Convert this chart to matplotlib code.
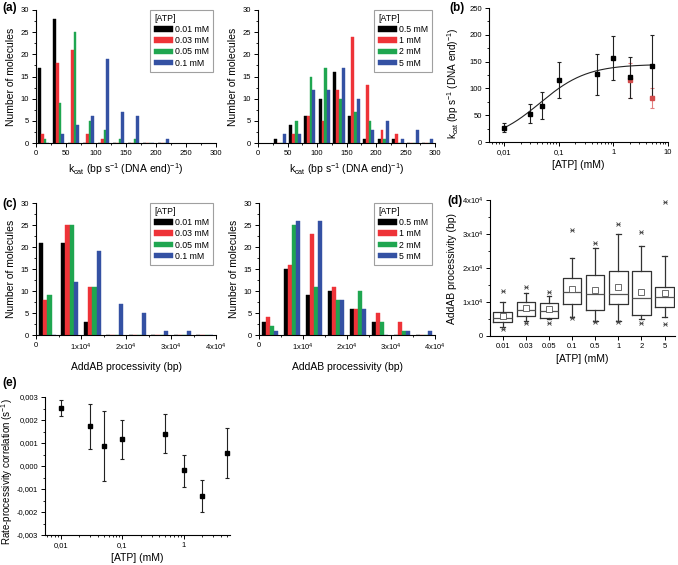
import numpy as np
import matplotlib
matplotlib.use('Agg')
import matplotlib.pyplot as plt
from matplotlib.ticker import MultipleLocator, LogLocator, NullFormatter

plt.rcParams['font.family'] = ['Liberation Sans', 'DejaVu Sans']
plt.rcParams['mathtext.default'] = 'regular'
plt.rcParams['xtick.direction'] = 'out'
plt.rcParams['ytick.direction'] = 'out'

# ---- data ----
colors = ['#000000', '#EE3338', '#1FA650', '#3451A3']

# (a) kcat histograms, bins of 25 bp/s
kcat_bins_low = [0, 25, 50, 75, 100, 125, 150, 175, 200]
kcat_low_labels = ['0.01 mM', '0.03 mM', '0.05 mM', '0.1 mM']
kcat_001 = [17, 28, 0, 0, 0, 0, 0, 0, 0]
kcat_003 = [2, 18, 21, 2, 1, 0, 0, 0, 0]
kcat_005 = [1, 9, 25, 5, 3, 1, 1, 0, 0]
kcat_01 = [0, 2, 4, 6, 19, 7, 6, 0, 1]

kcat_bins_high = [25, 50, 75, 100, 125, 150, 175, 200, 225, 250, 275]
kcat_high_labels = ['0.5 mM', '1 mM', '2 mM', '5 mM']
kcat_05 = [1, 4, 6, 10, 16, 6, 1, 1, 1, 0, 0]
kcat_1 = [0, 2, 6, 5, 12, 24, 13, 3, 2, 0, 0]
kcat_2 = [0, 5, 15, 17, 10, 7, 5, 1, 0, 0, 0]
kcat_5 = [2, 2, 12, 12, 17, 10, 3, 5, 1, 3, 1]

# (b) kcat vs ATP
atp_b = [0.01, 0.03, 0.05, 0.1, 0.5, 1, 2, 5]
kcat_mean = [27, 53, 68, 116, 126, 156, 121, 142]
kcat_err = [8, 17, 26, 33, 38, 41, 38, 57]
atp_b_red = [2, 5]
kcat_red = [115, 82]
kcat_red_err = [32, 19]
fit_vmax = 145.0
fit_km = 0.045

# (c) processivity histograms, bins of 5000 bp
proc_bins = [0, 5000, 10000, 15000, 20000, 25000, 30000, 35000]
proc_001 = [21, 21, 3, 0, 0, 0, 0, 0]
proc_003 = [8, 25, 11, 0, 0, 0, 0, 0]
proc_005 = [9, 25, 11, 0, 0, 0, 0, 0]
proc_01 = [0, 12, 19, 7, 5, 1, 1, 0]
proc_05 = [3, 15, 9, 10, 6, 3, 0, 0]
proc_1 = [4, 16, 23, 11, 6, 5, 3, 0]
proc_2 = [2, 25, 11, 8, 10, 3, 1, 0]
proc_5 = [1, 26, 26, 8, 6, 0, 1, 1]

# (d) processivity box plot
box_labels = ['0.01', '0.03', '0.05', '0.1', '0.5', '1', '2', '5']
box_whislo = [2600, 4400, 4900, 5700, 4400, 4400, 4900, 5700]
box_q1 = [4200, 6000, 5400, 9400, 7600, 9300, 6200, 8500]
box_med = [5200, 7600, 7500, 12900, 12300, 12300, 11100, 11500]
box_q3 = [7000, 9900, 9600, 17000, 18000, 19000, 19000, 14300]
box_whishi = [10100, 12700, 11800, 23000, 25800, 30100, 26400, 23500]
box_mean = [5900, 8100, 7800, 13800, 13400, 14400, 12900, 12600]
box_max = [13300, 14300, 12800, 31200, 27500, 32900, 30500, 39300]
box_min = [2200, 3900, 3700, 5200, 4100, 4100, 3700, 3400]

# (e) rate-processivity correlation
atp_e = [0.01, 0.03, 0.05, 0.1, 0.5, 1, 2, 5]
corr = [0.00254, 0.00172, 0.00088, 0.00116, 0.00140, -0.00017, -0.00131, 0.00058]
corr_up = [0.00288, 0.00269, 0.00240, 0.00200, 0.00224, 0.00049, -0.00063, 0.00167]
corr_lo = [0.00218, 0.00073, -0.00066, 0.00032, 0.00055, -0.00090, -0.00198, -0.00052]
e_ticks = [-0.003, -0.002, -0.001, 0.0, 0.001, 0.002, 0.003]
e_ticklabels = ['-0,003', '-0,002', '-0,001', '0,000', '0,001', '0,002', '0,003']
log_ticks = [0.01, 0.1, 1, 10]
log_ticklabels = ['0,01', '0,1', '1', '10']

TICK_FS = 5.5
LABEL_FS = 7.5
LEG_FS = 6.3
W, H = 678, 565


def px_axes(fig, left, right, top, bottom):
    return fig.add_axes([left / W, 1 - bottom / H, (right - left) / W, (bottom - top) / H])


def style(ax):
    for s in ['top', 'right']:
        ax.spines[s].set_visible(False)
    for s in ['left', 'bottom']:
        ax.spines[s].set_linewidth(0.8)
    ax.tick_params(which='major', length=3, width=0.7, labelsize=TICK_FS, pad=2)
    ax.tick_params(which='minor', length=1.5, width=0.6)


def grouped_hist(ax, bins, series, labels, width):
    for i, (vals, lab) in enumerate(zip(series, labels)):
        lefts = np.array(bins) + width * (0.115 + 0.1925 * i)
        ax.bar(lefts, vals, width=width * 0.1925, align='edge', color=colors[i],
               edgecolor=colors[i], linewidth=0.3, label=lab)
    leg = ax.legend(title='[ATP]', loc='upper right', bbox_to_anchor=(0.985, 1.0),
                    fontsize=LEG_FS, title_fontsize=LEG_FS, frameon=True, fancybox=False,
                    edgecolor='#888888', handlelength=2.1, handleheight=0.6,
                    labelspacing=0.25, handletextpad=0.3, borderpad=0.45, borderaxespad=0)
    leg.get_frame().set_linewidth(0.8)
    leg._legend_box.align = 'left'
    ax.set_ylim(0, 30)
    ax.yaxis.set_major_locator(MultipleLocator(5))
    ax.yaxis.set_minor_locator(MultipleLocator(2.5))
    ax.set_ylabel('Number of molecules', fontsize=LABEL_FS, labelpad=3)


fig = plt.figure(figsize=(W / 100, H / 100), dpi=100)

kcat_label = r'k$_{cat}$ (bp s$^{-1}$ (DNA end)$^{-1}$)'

# (a) left
ax = px_axes(fig, 36, 216, 10, 143)
style(ax)
grouped_hist(ax, kcat_bins_low, [kcat_001, kcat_003, kcat_005, kcat_01], kcat_low_labels, 25)
ax.set_xlim(0, 300)
ax.xaxis.set_major_locator(MultipleLocator(50))
ax.xaxis.set_minor_locator(MultipleLocator(25))
ax.set_xlabel(kcat_label, fontsize=LABEL_FS, labelpad=3)

# (a) right
ax = px_axes(fig, 258, 435, 10, 143)
style(ax)
grouped_hist(ax, kcat_bins_high, [kcat_05, kcat_1, kcat_2, kcat_5], kcat_high_labels, 25)
ax.set_xlim(0, 300)
ax.xaxis.set_major_locator(MultipleLocator(50))
ax.xaxis.set_minor_locator(MultipleLocator(25))
ax.set_xlabel(kcat_label, fontsize=LABEL_FS, labelpad=3)

# (b)
ax = px_axes(fig, 489, 668, 8, 142)
style(ax)
xf = np.logspace(np.log10(0.01), np.log10(5), 200)
ax.plot(xf, fit_vmax * xf / (fit_km + xf), color='#222222', lw=0.8)
ax.errorbar(atp_b_red, kcat_red, yerr=kcat_red_err, fmt='s', color='#D24B4B',
            ecolor='#E38080', ms=3.5, capsize=1.5, elinewidth=0.8, capthick=0.8)
ax.errorbar(atp_b, kcat_mean, yerr=kcat_err, fmt='s', color='black', ecolor='#222222',
            ms=3.5, capsize=1.5, elinewidth=0.8, capthick=0.8)
ax.set_xscale('log')
ax.set_xlim(0.0053, 10)
ax.set_ylim(0, 250)
ax.set_xticks(log_ticks)
ax.set_xticklabels(log_ticklabels)
ax.xaxis.set_minor_locator(LogLocator(base=10, subs=np.arange(2, 10)))
ax.xaxis.set_minor_formatter(NullFormatter())
ax.yaxis.set_major_locator(MultipleLocator(50))
ax.yaxis.set_minor_locator(MultipleLocator(25))
ax.set_xlabel('[ATP] (mM)', fontsize=LABEL_FS, labelpad=3)
ax.set_ylabel(kcat_label, fontsize=LABEL_FS - 0.3)
ax.yaxis.set_label_coords(-0.155, 0.44)

# (c) left
proc_ticks = [0, 10000, 20000, 30000, 40000]
proc_ticklabels = ['0', r'1x10$^4$', r'2x10$^4$', r'3x10$^4$', r'4x10$^4$']
ax = px_axes(fig, 36, 216, 203, 335)
style(ax)
grouped_hist(ax, proc_bins, [proc_001, proc_003, proc_005, proc_01], kcat_low_labels, 5000)
ax.set_xlim(0, 40000)
ax.set_xticks(proc_ticks)
ax.set_xticklabels(proc_ticklabels)
ax.xaxis.set_minor_locator(MultipleLocator(5000))
ax.set_xlabel('AddAB processivity (bp)', fontsize=LABEL_FS, labelpad=6)

# (c) right
ax = px_axes(fig, 259, 435, 203, 335)
style(ax)
grouped_hist(ax, proc_bins, [proc_05, proc_1, proc_2, proc_5], kcat_high_labels, 5000)
ax.set_xlim(0, 40000)
ax.set_xticks(proc_ticks)
ax.set_xticklabels(proc_ticklabels)
ax.xaxis.set_minor_locator(MultipleLocator(5000))
ax.set_xlabel('AddAB processivity (bp)', fontsize=LABEL_FS, labelpad=6)

# (d)
ax = px_axes(fig, 490, 675, 200, 336)
style(ax)
stats = []
for i in range(len(box_labels)):
    stats.append(dict(whislo=box_whislo[i], q1=box_q1[i], med=box_med[i], q3=box_q3[i],
                      whishi=box_whishi[i], mean=box_mean[i], fliers=[]))
pos = np.arange(1, len(box_labels) + 1)
ax.bxp(stats, positions=pos, widths=0.8, showmeans=True, showfliers=False,
       boxprops=dict(color='#333333', lw=0.9),
       whiskerprops=dict(color='#333333', lw=0.9),
       capprops=dict(color='#333333', lw=0.9), capwidths=0.2,
       medianprops=dict(color='#555555', lw=0.9),
       meanprops=dict(marker='s', markerfacecolor='white', markeredgecolor='#555555',
                      markersize=4, markeredgewidth=0.6))
ax.plot(pos, box_max, 'x', color='#444444', ms=3.5, mew=0.6)
ax.plot(pos, box_max, '_', color='#444444', ms=3.5, mew=0.6)
ax.plot(pos, box_min, 'x', color='#444444', ms=3.5, mew=0.6)
ax.plot(pos, box_min, '_', color='#444444', ms=3.5, mew=0.6)
ax.set_xlim(0.45, 8.45)
ax.set_xticks(pos)
ax.set_xticklabels(box_labels)
ax.set_ylim(0, 40000)
ax.set_yticks(proc_ticks)
ax.set_yticklabels(proc_ticklabels)
ax.yaxis.set_minor_locator(MultipleLocator(5000))
ax.set_xlabel('[ATP] (mM)', fontsize=LABEL_FS, labelpad=3)
ax.set_ylabel('AddAB processivity (bp)', fontsize=LABEL_FS, labelpad=3)

# (e)
ax = px_axes(fig, 45, 230, 397, 535)
style(ax)
yerr = [np.array(corr) - np.array(corr_lo), np.array(corr_up) - np.array(corr)]
ax.errorbar(atp_e, corr, yerr=yerr, fmt='s', color='black', ecolor='#222222',
            ms=3.5, capsize=1.5, elinewidth=0.8, capthick=0.8)
ax.set_xscale('log')
ax.set_xlim(0.0055, 5.7)
ax.set_xticks(log_ticks[:3])
ax.set_xticklabels(log_ticklabels[:3])
ax.xaxis.set_minor_locator(LogLocator(base=10, subs=np.arange(2, 10)))
ax.xaxis.set_minor_formatter(NullFormatter())
ax.set_ylim(-0.003, 0.003)
ax.set_yticks(e_ticks)
ax.set_yticklabels(e_ticklabels)
ax.yaxis.set_minor_locator(MultipleLocator(0.0005))
ax.set_xlabel('[ATP] (mM)', fontsize=LABEL_FS, labelpad=3)
ax.set_ylabel(r'Rate-processivity correlation (s$^{-1}$)', fontsize=7)
ax.yaxis.set_label_coords(-0.16, 0.46)

# panel letters
for lab, x, y in [('(a)', 2, 8), ('(b)', 449, 8), ('(c)', 2, 204), ('(d)', 447, 201), ('(e)', 2, 383)]:
    fig.text(x / W, 1 - y / H, lab, fontsize=8.5, fontweight='bold', va='center', ha='left')

fig.savefig('out.png', dpi=100)
